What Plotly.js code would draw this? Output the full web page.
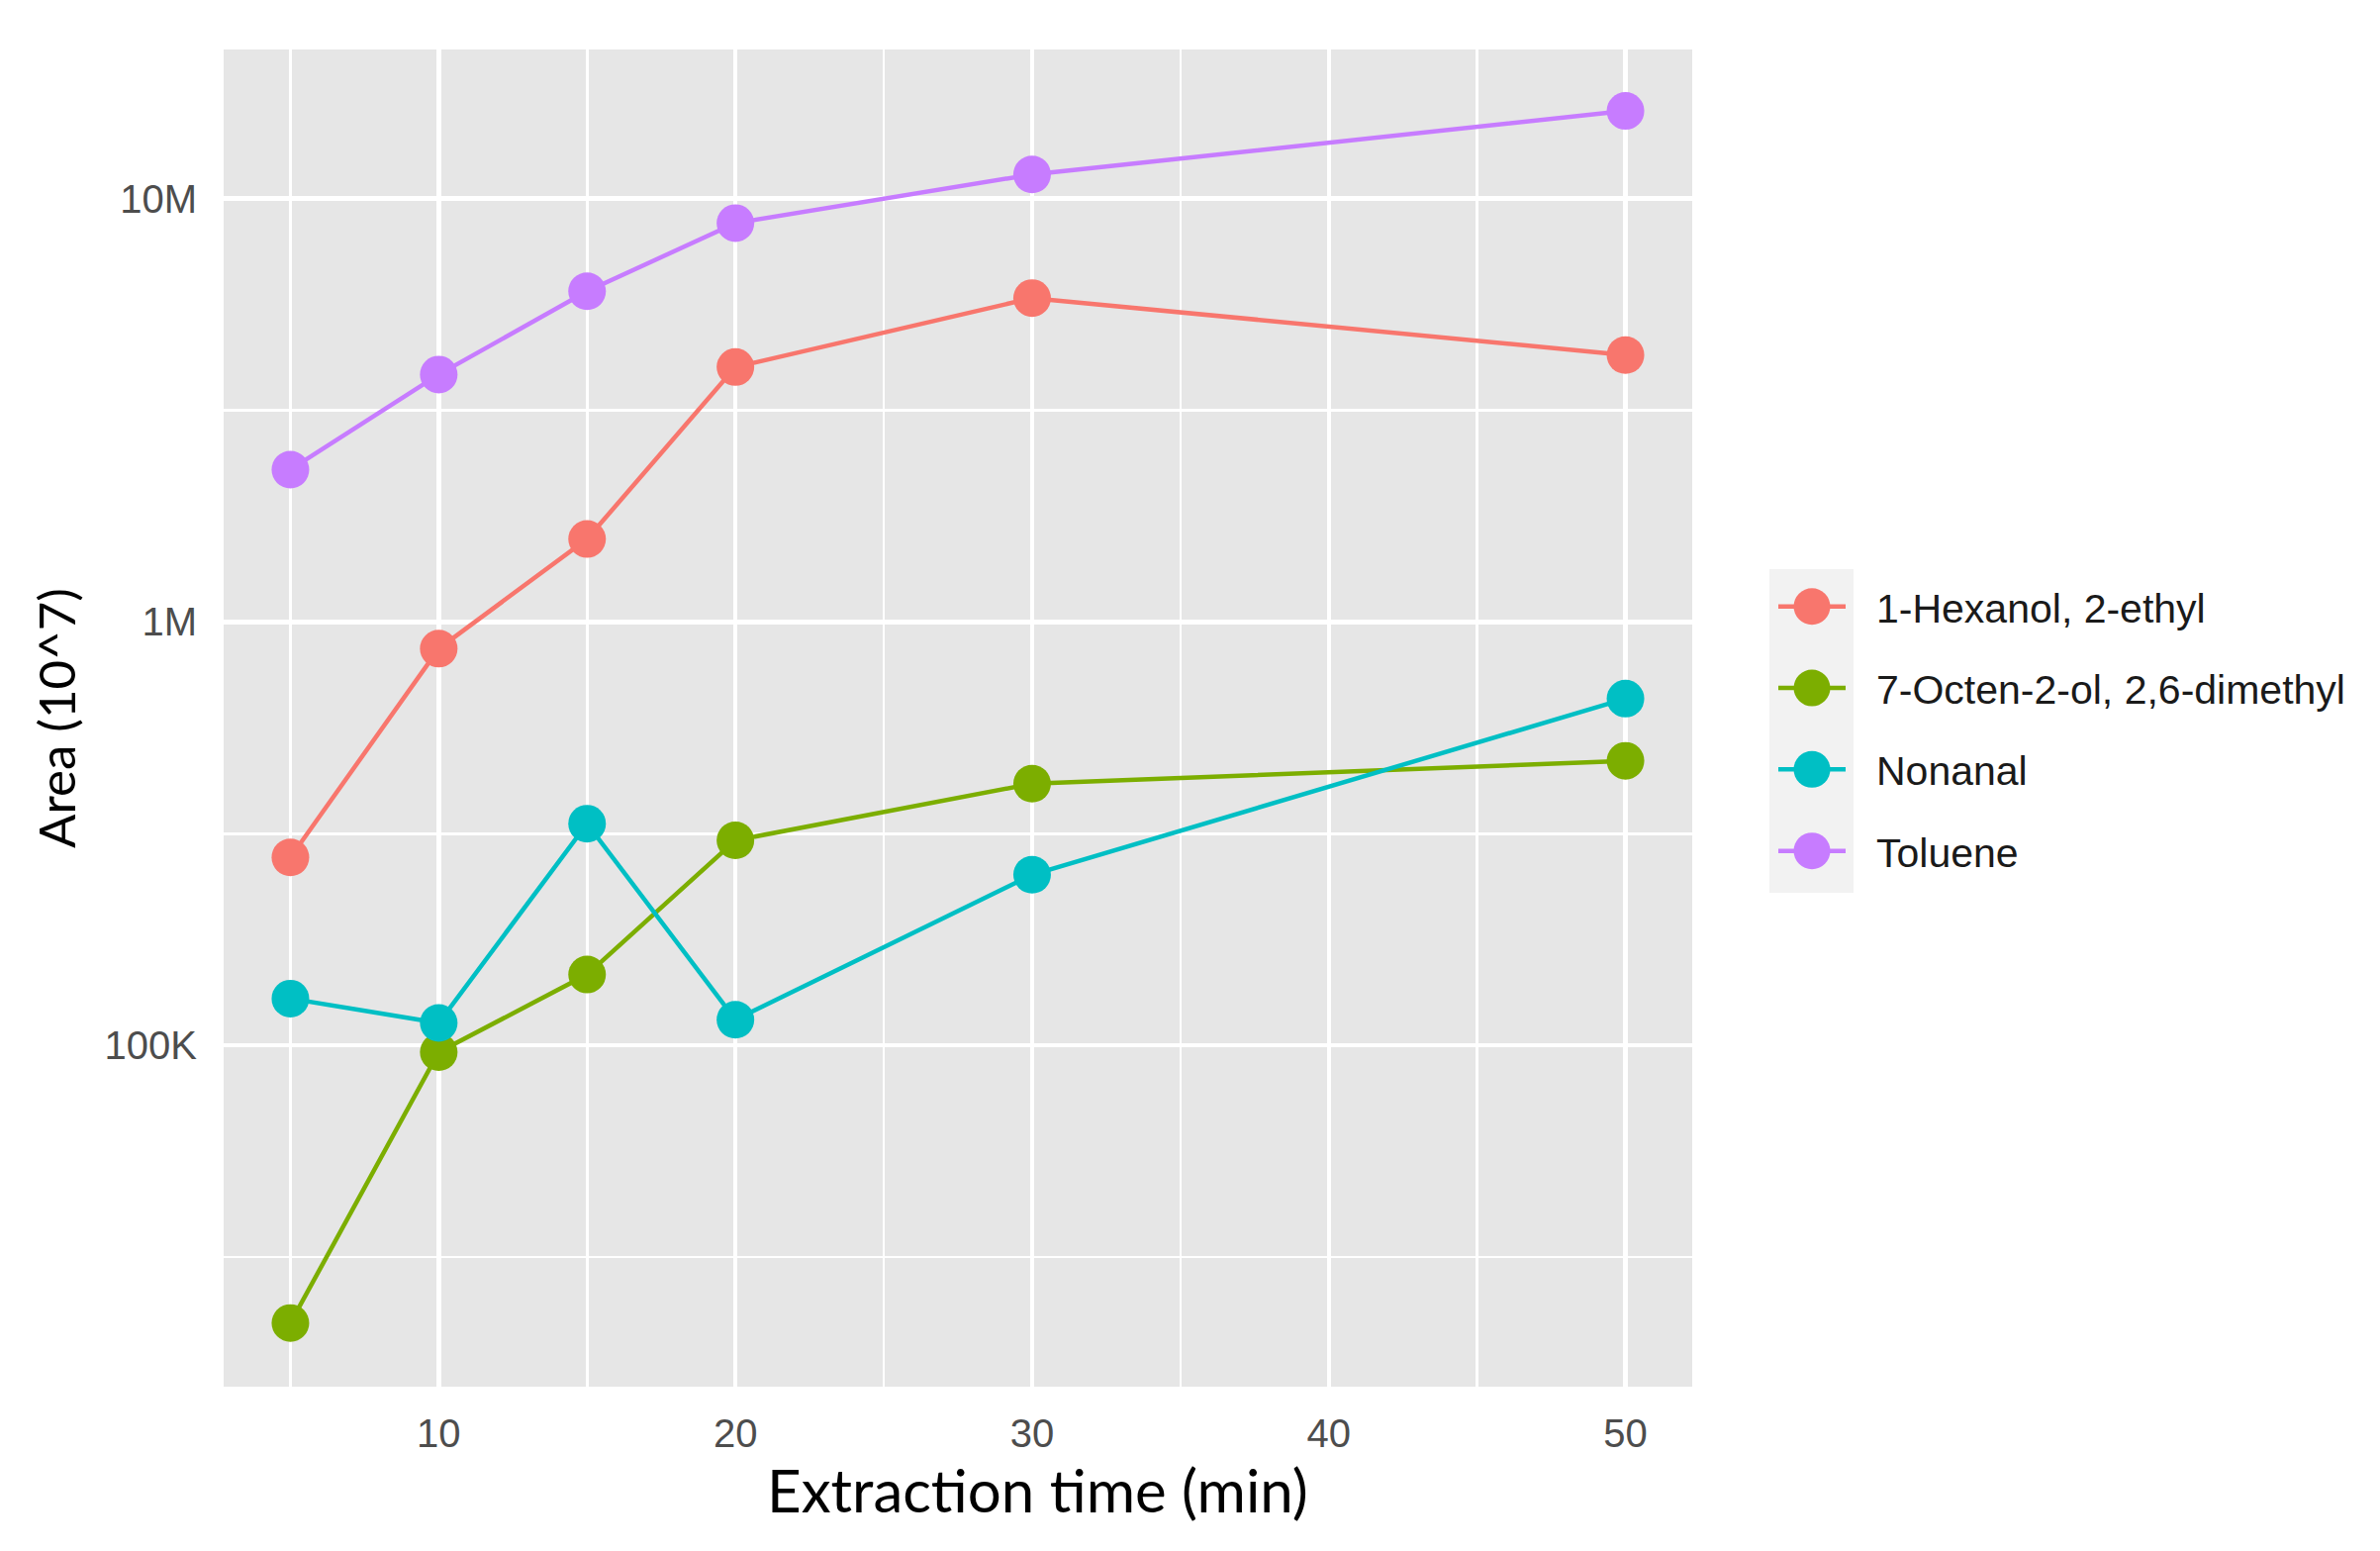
<!DOCTYPE html>
<html>
<head>
<meta charset="utf-8">
<script src="https://cdn.plot.ly/plotly-3.0.1.min.js"></script>
<style>
  html, body { margin: 0; padding: 0; background: #ffffff; }
</style>
</head>
<body>
<div id="chart"></div>
<script>
// extraction times (min)
const times = [5, 10, 15, 20, 30, 50];

// peak areas
const hexanol = [278000, 865000, 1570000, 4000000, 5820000, 4270000];
const octenol = [22100, 96400, 147000, 305000, 415000, 470000];
const nonanal = [129000, 113000, 334000, 115000, 253000, 659000];
const toluene = [2290000, 3840000, 6040000, 8750000, 11400000, 16100000];

const names = ["1-Hexanol, 2-ethyl", "7-Octen-2-ol, 2,6-dimethyl", "Nonanal", "Toluene"];
const colors = ["#F8766D", "#7CAE00", "#00BFC4", "#C77CFF"];
const series = [hexanol, octenol, nonanal, toluene];

const yTicks = [1e5, 1e6, 1e7];
const yTickText = ["100K", "1M", "10M"];
const yMinor = [31623, 316228, 3162278];
const xTicks = [10, 20, 30, 40, 50];
const xMinor = [5, 15, 25, 35, 45];

let chart = document.getElementById("chart");

let traces = series.map(function (vals, i) {
    return {
        x: times,
        y: vals,
        name: names[i],
        legendgroup: names[i],
        type: "scatter",
        mode: "lines+markers",
        line: { color: colors[i], width: 4.5 },
        marker: { color: colors[i], size: 38 },
    };
});

let layout = {
    width: 2405,
    height: 1567,
    margin: { l: 226, r: 695, t: 50, b: 166 },
    paper_bgcolor: "#ffffff",
    plot_bgcolor: "#E6E6E6",
    font: { family: "Liberation Sans, Arial, sans-serif", size: 40, color: "#4D4D4D" },
    showlegend: true,
    legend: {
        x: (1766 - 226) / 1484,
        xanchor: "left",
        y: 0.608,
        yanchor: "top",
        bgcolor: "rgba(0,0,0,0)",
        font: { size: 41, color: "#1A1A1A" },
        tracegroupgap: 26,
        itemwidth: 120,
    },
    xaxis: {
        range: [2.75, 52.25],
        tickvals: xTicks,
        showgrid: true,
        gridcolor: "#ffffff",
        gridwidth: 4.5,
        zeroline: false,
        showline: false,
        ticks: "outside",
        ticklen: 12,
        tickcolor: "rgba(0,0,0,0)",
        minor: { tickvals: xMinor, showgrid: true, gridcolor: "#ffffff", gridwidth: 2.5, ticks: "" },
    },
    yaxis: {
        type: "log",
        range: [4.194, 7.352],
        tickvals: yTicks,
        ticktext: yTickText,
        showgrid: true,
        gridcolor: "#ffffff",
        gridwidth: 4.5,
        zeroline: false,
        showline: false,
        ticks: "outside",
        ticklen: 18,
        tickcolor: "rgba(0,0,0,0)",
        minor: { tickvals: yMinor, showgrid: true, gridcolor: "#ffffff", gridwidth: 2.5, ticks: "" },
        title: {
            text: "Area (10^7)",
            font: { family: "Lato, sans-serif", size: 51, color: "#000000" },
            standoff: 12,
        },
    },
    annotations: [
        {
            text: "Extraction time (min)",
            xref: "paper",
            yref: "paper",
            x: 0.554,
            y: -0.077,
            xanchor: "center",
            yanchor: "middle",
            showarrow: false,
            font: { family: "Lato, sans-serif", size: 60, color: "#000000" },
        },
    ],
    shapes: [
        {
            // grey strip behind the legend keys
            type: "rect",
            xref: "paper",
            yref: "paper",
            x0: (1788 - 226) / 1484,
            x1: (1873 - 226) / 1484,
            y0: (1401 - 902) / 1351,
            y1: (1401 - 575) / 1351,
            fillcolor: "#F2F2F2",
            line: { width: 0 },
            layer: "below",
        },
    ],
};

Plotly.newPlot(chart, traces, layout, { displayModeBar: false, staticPlot: true }).then(function () {
    // plotly caps legend markers at 16px; make the keys look like the ggplot ones
    let r = 18.5;
    chart.querySelectorAll(".legend .traces").forEach(function (item) {
        let pt = item.querySelector(".legendpoints path.scatterpts");
        let ln = item.querySelector(".legendlines path");
        if (pt) {
            pt.setAttribute("d", "M" + r + ",0A" + r + "," + r + " 0 1,1 0,-" + r + "A" + r + "," + r + " 0 0,1 " + r + ",0Z");
        }
        if (ln && pt) {
            let b = ln.getBBox();
            let cx = b.x + b.width / 2;
            ln.setAttribute("d", "M" + (cx - 34) + ",0h68");
        }
    });
});
</script>
</body>
</html>
